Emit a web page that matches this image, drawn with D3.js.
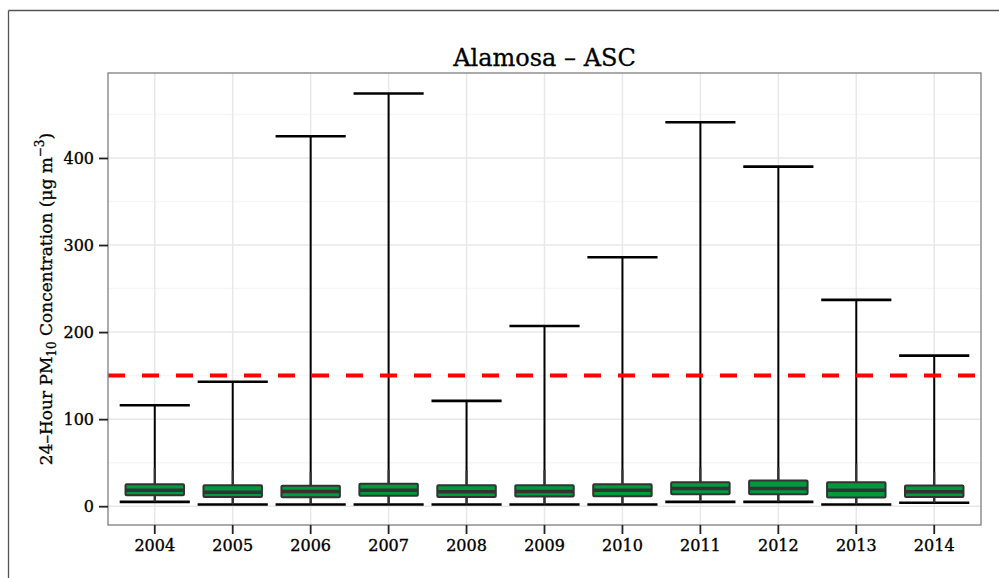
<!DOCTYPE html>
<html>
<head>
<meta charset="utf-8">
<script src="https://cdn.jsdelivr.net/npm/d3@7"></script>
<style>
  body { margin: 0; background: #fff; }
  text { font-family: "DejaVu Serif", serif; fill: #000; }
</style>
</head>
<body>
<div id="chart"></div>
<script>
// yearly box summaries (ug/m3)
const years = ["2004", "2005", "2006", "2007", "2008", "2009", "2010", "2011", "2012", "2013", "2014"];
const dataMin = [5, 2, 2, 2, 2, 2, 2, 5, 5, 2, 4];
const q1 = [12.5, 10.7, 10.4, 11.9, 10.7, 11, 11.5, 13.8, 13.8, 10, 10.7];
const medians = [18.4, 16, 16.9, 18.4, 16.5, 16.8, 18.4, 20.4, 20.4, 18.4, 16.5];
const q3 = [25.3, 24.2, 23.4, 25.7, 24.2, 24, 25.3, 27.6, 29.6, 27.6, 23.8];
const fenceHi = [44, 41, 39.5, 41.5, 40.7, 41.5, 42, 44.5, 44.5, 49, 39.5]; // end of the grey boxplot whisker
const dataMax = [116, 143, 425, 474, 121, 207, 286, 441, 390, 237, 173];
const yTicks = [0, 100, 200, 300, 400];
const yMinorTicks = [50, 150, 250, 350, 450];
const standard = 150; // 24-hour PM10 NAAQS

const rows = years.map((year, i) => ({
    year,
    min: dataMin[i],
    q1: q1[i],
    median: medians[i],
    q3: q3[i],
    hi: fenceHi[i],
    max: dataMax[i]
}));

const W = 999, H = 578;
const panel = { left: 108, top: 73, right: 981, bottom: 525 };

const svg = d3.select("#chart")
    .append("svg")
    .attr("width", W)
    .attr("height", H);

// frame around the figure (only top and left fall inside the window)
svg.append("line")
    .attr("x1", 8.5).attr("x2", W).attr("y1", 10.5).attr("y2", 10.5)
    .attr("stroke", "#555").attr("stroke-width", 1.3);
svg.append("line")
    .attr("x1", 8.5).attr("x2", 8.5).attr("y1", 10.5).attr("y2", H)
    .attr("stroke", "#555").attr("stroke-width", 1.3);

// ggplot style expansion: 5% of the data range on each side
const lo = d3.min(dataMin), hi = d3.max(dataMax);
const pad = (hi - lo) * 0.05;

const x = d3.scaleBand()
    .domain(years)
    .range([panel.left, panel.right])
    .paddingInner(0)
    .paddingOuter(0.1);

const y = d3.scaleLinear()
    .domain([lo - pad, hi + pad])
    .range([panel.bottom, panel.top]);

const cx = d => x(d) + x.bandwidth() / 2;
const boxW = x.bandwidth() * 0.75;
const capW = x.bandwidth() * 0.9;

// grid
const grid = svg.append("g");
grid.selectAll(".minor")
    .data(yMinorTicks)
    .join("line")
    .attr("x1", panel.left).attr("x2", panel.right)
    .attr("y1", d => y(d)).attr("y2", d => y(d))
    .attr("stroke", "#f6f6f6").attr("stroke-width", 1.5);
grid.selectAll(".majorY")
    .data(yTicks)
    .join("line")
    .attr("x1", panel.left).attr("x2", panel.right)
    .attr("y1", d => y(d)).attr("y2", d => y(d))
    .attr("stroke", "#e8e8e8").attr("stroke-width", 1.5);
grid.selectAll(".majorX")
    .data(years)
    .join("line")
    .attr("x1", d => cx(d)).attr("x2", d => cx(d))
    .attr("y1", panel.top).attr("y2", panel.bottom)
    .attr("stroke", "#e8e8e8").attr("stroke-width", 1.5);

// error bars: full range min..max with caps
const eb = svg.append("g");
eb.selectAll(".stem")
    .data(rows)
    .join("line")
    .attr("x1", d => cx(d.year)).attr("x2", d => cx(d.year))
    .attr("y1", d => y(d.min)).attr("y2", d => y(d.max))
    .attr("stroke", "#000").attr("stroke-width", 2);
["min", "max"].forEach(k => {
    eb.selectAll(".cap-" + k)
        .data(rows)
        .join("line")
        .attr("x1", d => cx(d.year) - capW / 2).attr("x2", d => cx(d.year) + capW / 2)
        .attr("y1", d => y(d[k])).attr("y2", d => y(d[k]))
        .attr("stroke", "#000").attr("stroke-width", 2.6);
});

// boxplot whiskers (grey) and boxes
const bp = svg.append("g");
bp.selectAll(".wHi")
    .data(rows)
    .join("line")
    .attr("x1", d => cx(d.year)).attr("x2", d => cx(d.year))
    .attr("y1", d => y(d.q3)).attr("y2", d => y(d.hi))
    .attr("stroke", "#333").attr("stroke-width", 2);
bp.selectAll(".wLo")
    .data(rows)
    .join("line")
    .attr("x1", d => cx(d.year)).attr("x2", d => cx(d.year))
    .attr("y1", d => y(d.q1)).attr("y2", d => y(d.min))
    .attr("stroke", "#333").attr("stroke-width", 2);
bp.selectAll("rect")
    .data(rows)
    .join("rect")
    .attr("x", d => cx(d.year) - boxW / 2)
    .attr("width", boxW)
    .attr("y", d => y(d.q3))
    .attr("height", d => y(d.q1) - y(d.q3))
    .attr("fill", "#009a3e")
    .attr("stroke", "#333").attr("stroke-width", 2)
    .attr("rx", 1);
bp.selectAll(".med")
    .data(rows)
    .join("line")
    .attr("x1", d => cx(d.year) - boxW / 2).attr("x2", d => cx(d.year) + boxW / 2)
    .attr("y1", d => y(d.median)).attr("y2", d => y(d.median))
    .attr("stroke", "#333").attr("stroke-width", 3.5);

// standard line
svg.append("line")
    .attr("x1", panel.left).attr("x2", panel.right)
    .attr("y1", y(standard)).attr("y2", y(standard))
    .attr("stroke", "#ff0000").attr("stroke-width", 4)
    .attr("stroke-dasharray", "17,17");

// panel border
svg.append("rect")
    .attr("x", panel.left).attr("y", panel.top)
    .attr("width", panel.right - panel.left)
    .attr("height", panel.bottom - panel.top)
    .attr("fill", "none")
    .attr("stroke", "#7f7f7f").attr("stroke-width", 1.3);

// axes
const xAxis = svg.append("g")
    .attr("transform", `translate(0,${panel.bottom})`)
    .call(d3.axisBottom(x).tickSize(9).tickPadding(6));
const yAxis = svg.append("g")
    .attr("transform", `translate(${panel.left},0)`)
    .call(d3.axisLeft(y).tickValues(yTicks).tickSize(9).tickPadding(5));
[xAxis, yAxis].forEach(g => {
    g.select(".domain").remove();
    g.selectAll(".tick line").attr("stroke", "#222").attr("stroke-width", 1.8);
    g.selectAll(".tick text")
        .attr("font-family", "DejaVu Serif")
        .attr("font-size", 16)
        .attr("fill", "#000")
        .attr("stroke", "#000")
        .attr("stroke-width", 0.35);
});

// title
svg.append("text")
    .attr("x", (panel.left + panel.right) / 2)
    .attr("y", 66)
    .attr("text-anchor", "middle")
    .attr("font-size", 24)
    .attr("stroke", "#000")
    .attr("stroke-width", 0.3)
    .text("Alamosa – ASC");

// y axis title with sub/superscripts
const yt = svg.append("text")
    .attr("transform", `translate(52,${(panel.top + panel.bottom) / 2}) rotate(-90)`)
    .attr("text-anchor", "middle")
    .attr("font-size", 17)
    .attr("stroke", "#000")
    .attr("stroke-width", 0.3);
yt.append("tspan").text("24–Hour PM");
yt.append("tspan").attr("font-size", 12).attr("dy", 4).text("10");
yt.append("tspan").attr("dy", -4).text(" Concentration (μg m");
yt.append("tspan").attr("font-size", 12).attr("dy", -8).text("−3");
yt.append("tspan").attr("dy", 8).text(")");
</script>
</body>
</html>
